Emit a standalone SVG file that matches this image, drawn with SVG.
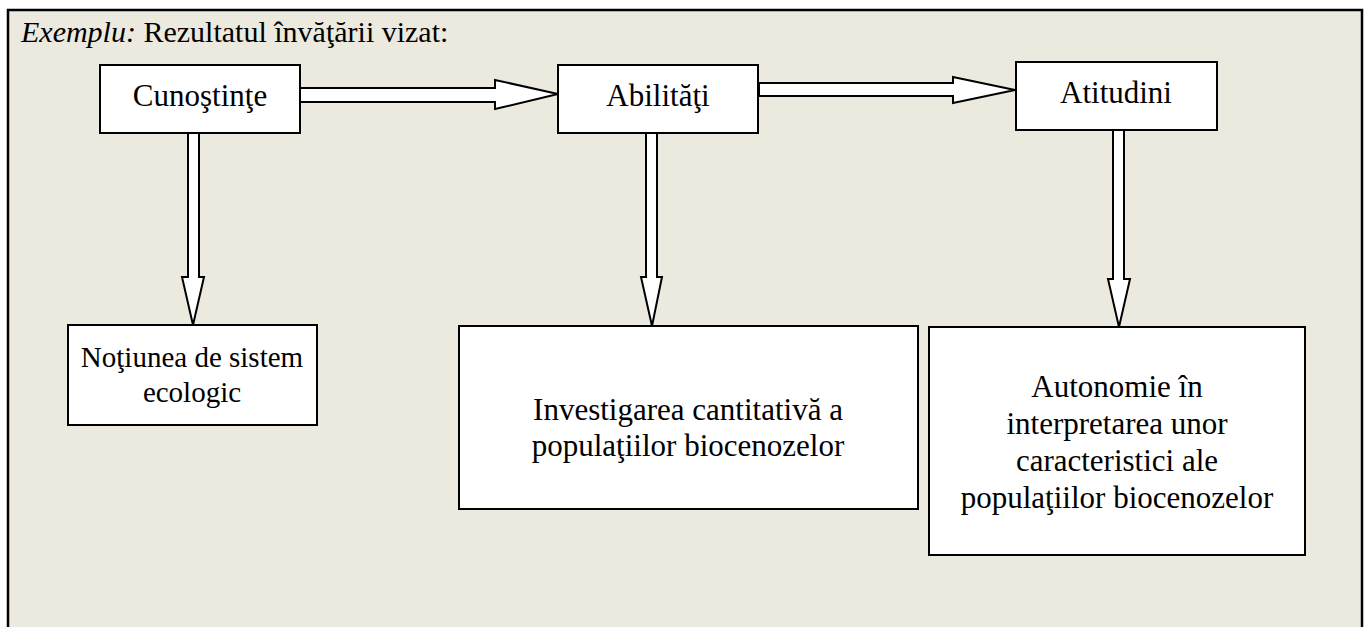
<svg xmlns="http://www.w3.org/2000/svg" width="1367" height="627" viewBox="0 0 1367 627">
<style>
text{font-family:'Liberation Serif','Times New Roman',serif;font-size:31px;fill:#000}
.box{fill:#fff;stroke:#000;stroke-width:2}
.arr{fill:#fff;stroke:#000;stroke-width:2;stroke-linejoin:miter}
</style>
<rect x="0" y="0" width="1367" height="627" fill="#fff"/>
<path d="M8 627 V10 H1362 V627" fill="#ECE9DF" stroke="#000" stroke-width="2.5"/>
<text x="21" y="42" style="font-size:30px"><tspan font-style="italic">Exemplu:</tspan> Rezultatul învăţării vizat:</text>
<g id="connectors">
<polygon class="arr" points="300,88 495,88 495,80 558,94 495,109 495,102 300,102"/>
<polygon class="arr" points="759,83 953,83 953,77 1015,90 953,103 953,96 759,96"/>
<polygon class="arr" points="188,133 199,133 199,277 204,277 193,325 182,277 188,277"/>
<polygon class="arr" points="646,133 657,133 657,277 662,277 652,326 641,277 646,277"/>
<polygon class="arr" points="1113,130 1124,130 1124,279 1130,279 1119,327 1108,279 1113,279"/>
</g>
<g id="cunostinte"><rect class="box" x="100" y="65" width="200" height="68"/><text x="200" y="106" text-anchor="middle">Cunoştinţe</text></g>
<g id="abilitati"><rect class="box" x="558" y="65" width="200" height="68"/><text x="658" y="106" text-anchor="middle">Abilităţi</text></g>
<g id="atitudini"><rect class="box" x="1016" y="62" width="201" height="68"/><text x="1116" y="103" text-anchor="middle">Atitudini</text></g>
<g id="notiunea"><rect class="box" x="68" y="325" width="249" height="100"/><text text-anchor="middle" style="font-size:29px"><tspan x="192" y="367">Noţiunea de sistem</tspan><tspan x="192" y="402">ecologic</tspan></text></g>
<g id="investigarea"><rect class="box" x="459" y="326" width="459" height="183"/><text text-anchor="middle"><tspan x="688" y="420">Investigarea cantitativă a</tspan><tspan x="688" y="456">populaţiilor biocenozelor</tspan></text></g>
<g id="autonomie"><rect class="box" x="929" y="327" width="376" height="228"/><text text-anchor="middle"><tspan x="1117" y="397">Autonomie în</tspan><tspan x="1117" y="434">interpretarea unor</tspan><tspan x="1117" y="471">caracteristici ale</tspan><tspan x="1117" y="508">populaţiilor biocenozelor</tspan></text></g>
</svg>
